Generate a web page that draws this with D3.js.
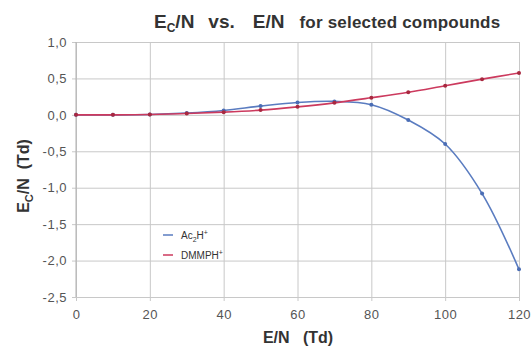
<!DOCTYPE html>
<html>
<head>
<meta charset="utf-8">
<script src="https://cdn.jsdelivr.net/npm/d3@7"></script>
<style>
  body { margin: 0; background: #fff; }
  text { font-family: "Liberation Sans", Arial, sans-serif; }
  .axis path { display: none; }
  .axis line { stroke: #c8c8c8; }
  .axis text { fill: #555; font-size: 13px; letter-spacing: 0.5px; }
</style>
</head>
<body>
<div id="chart"></div>
<script>
// E/N values (Td)
const xValues = [0, 10, 20, 30, 40, 50, 60, 70, 80, 90, 100, 110, 120];
// Ec/N values (Td)
const ac2h = [0, 0, 0.005, 0.025, 0.06, 0.12, 0.17, 0.185, 0.14, -0.07, -0.40, -1.08, -2.12];
const dmmph = [0, 0, 0.005, 0.018, 0.037, 0.065, 0.11, 0.165, 0.235, 0.31, 0.40, 0.49, 0.575];
const xTicks = [0, 20, 40, 60, 80, 100, 120];
const yTicks = [1.0, 0.5, 0.0, -0.5, -1.0, -1.5, -2.0, -2.5];

const width = 531, height = 346;
const margin = {top: 42, right: 12, bottom: 49, left: 76};

const x = d3.scaleLinear().domain([0, 120]).range([margin.left, width - margin.right]);
const y = d3.scaleLinear().domain([-2.5, 1.0]).range([height - margin.bottom, margin.top]);

const fmt = d => d3.format('.1f')(d).replace('.', ',').replace('−', '-');

const svg = d3.select('#chart').append('svg')
  .attr('width', width)
  .attr('height', height);

// horizontal grid + y labels
svg.append('g')
  .attr('class', 'axis y')
  .attr('transform', `translate(${margin.left},0)`)
  .call(d3.axisLeft(y).tickValues(yTicks).tickSize(-(width - margin.left - margin.right)).tickSizeOuter(0).tickPadding(9).tickFormat(fmt))
  .call(g => g.selectAll('.tick line').attr('x1', -4));

// vertical grid + x labels
svg.append('g')
  .attr('class', 'axis x')
  .attr('transform', `translate(0,${height - margin.bottom})`)
  .call(d3.axisBottom(x).tickValues(xTicks).tickSize(-(height - margin.top - margin.bottom)).tickSizeOuter(0).tickPadding(13))
  .call(g => g.selectAll('.tick line').attr('y1', 4));

// left axis line
svg.append('line')
  .attr('x1', x(0)).attr('x2', x(0))
  .attr('y1', y(1.0)).attr('y2', y(-2.5))
  .attr('stroke', '#b0b0b0');

const series = [
  {name: 'Ac', values: ac2h, color: '#5a7cc0', dot: '#4a6db5'},
  {name: 'DMMPH', values: dmmph, color: '#cc3a5e', dot: '#a8283f'}
];

const line = d3.line()
  .x((d, i) => x(xValues[i]))
  .y(d => y(d))
  .curve(d3.curveCatmullRom);

series.forEach(s => {
  svg.append('path')
    .datum(s.values)
    .attr('fill', 'none')
    .attr('stroke', s.color)
    .attr('stroke-width', 1.6)
    .attr('d', line);
  svg.append('g')
    .selectAll('circle')
    .data(s.values)
    .enter().append('circle')
      .attr('cx', (d, i) => x(xValues[i]))
      .attr('cy', d => y(d))
      .attr('r', 2)
      .attr('fill', s.dot);
});

// title
const title = svg.append('text')
  .attr('x', 154)
  .attr('y', 28)
  .attr('fill', '#333')
  .attr('font-weight', 'bold')
  .attr('font-size', '19px');
title.append('tspan').text('E');
title.append('tspan').attr('font-size', '12px').attr('dy', 4).text('C');
title.append('tspan').attr('dy', -4).text('/N');
title.append('tspan').attr('dx', 14).text('vs.');
title.append('tspan').attr('dx', 18).text('E/N');
title.append('tspan').attr('font-size', '17px').attr('dx', 15).attr('letter-spacing', '0.2px').text('for selected compounds');

// y title
const yTitle = svg.append('text')
  .attr('transform', 'translate(29,176) rotate(-90)')
  .attr('text-anchor', 'middle')
  .attr('fill', '#333')
  .attr('font-weight', 'bold')
  .attr('font-size', '16px');
yTitle.append('tspan').text('E');
yTitle.append('tspan').attr('font-size', '11px').attr('dy', 4).text('C');
yTitle.append('tspan').attr('dy', -4).text('/N\u00a0\u00a0(Td)');

// x title
svg.append('text')
  .attr('x', 298)
  .attr('y', 343)
  .attr('text-anchor', 'middle')
  .attr('fill', '#333')
  .attr('font-weight', 'bold')
  .attr('font-size', '16px')
  .text('E/N\u00a0\u00a0\u00a0(Td)');

// legend
const legend = svg.append('g').attr('transform', 'translate(163,235)');
const labels = [
  [{t: 'Ac'}, {t: '2', sub: true}, {t: 'H'}, {t: '+', sup: true}],
  [{t: 'DMMPH'}, {t: '+', sup: true}]
];
series.forEach((s, i) => {
  const row = legend.append('g').attr('transform', `translate(0,${i * 20})`);
  row.append('line').attr('x1', 0).attr('x2', 10).attr('y1', 0).attr('y2', 0)
    .attr('stroke', s.color).attr('stroke-width', 1.5);
  const t = row.append('text').attr('x', 18).attr('y', 4).attr('font-size', '10px').attr('fill', '#333');
  let shift = 0;
  labels[i].forEach(p => {
    const target = p.sub ? 3 : p.sup ? -4 : 0;
    const sp = t.append('tspan').text(p.t).attr('dy', target - shift);
    if (p.sub || p.sup) sp.attr('font-size', '7px');
    shift = target;
  });
});
</script>
</body>
</html>
